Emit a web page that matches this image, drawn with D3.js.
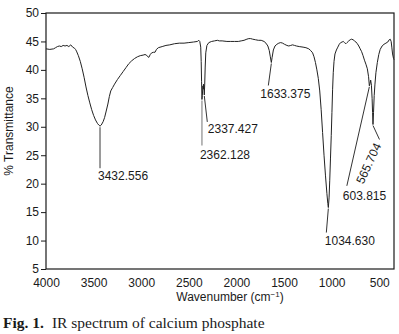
<!DOCTYPE html>
<html>
<head>
<meta charset="utf-8">
<script src="https://cdn.jsdelivr.net/npm/d3@7"></script>
<style>
    body { margin: 0; background: #fff; }
    text { font-family: "Liberation Sans", Arial, sans-serif; fill: #1a1a1a; }
</style>
</head>
<body>
<div id="chart"></div>
<script>
// spectrum (wavenumber in cm-1, % transmittance)
const wavenumber = [
    4000, 3960, 3920, 3900, 3880, 3860, 3840, 3820, 3800, 3780, 3760, 3740, 3720, 3700, 3690, 3680,
    3660, 3640, 3620, 3600, 3580, 3560, 3540, 3520, 3500, 3480, 3460, 3445, 3432.556, 3420, 3400, 3385,
    3370, 3350, 3335, 3320, 3300, 3280, 3250, 3220, 3190, 3160, 3130, 3100, 3070, 3040, 3010, 2980,
    2960, 2945, 2930, 2920, 2905, 2890, 2870, 2855, 2840, 2820, 2780, 2740, 2700, 2650, 2600, 2550,
    2500, 2450, 2410, 2395, 2385, 2375, 2370, 2366, 2362.128, 2358, 2352, 2348, 2344, 2340, 2337.427, 2333,
    2328, 2322, 2310, 2290, 2260, 2230, 2200, 2180, 2150, 2100, 2060, 2020, 1980, 1950, 1920, 1890,
    1870, 1850, 1830, 1800, 1770, 1740, 1710, 1690, 1670, 1655, 1645, 1633.375, 1625, 1612, 1595, 1575,
    1555, 1535, 1515, 1495, 1470, 1450, 1430, 1410, 1390, 1370, 1340, 1300, 1270, 1240, 1220, 1200,
    1185, 1170, 1155, 1140, 1125, 1110, 1095, 1080, 1065, 1050, 1040, 1034.630, 1027, 1020, 1012, 1004,
    997, 990, 983, 975, 965, 950, 935, 920, 905, 890, 878, 865, 850, 838, 820, 805,
    790, 775, 760, 745, 730, 715, 700, 685, 670, 655, 640, 625, 612, 603.815, 597, 590,
    582, 575, 570, 565.704, 560, 553, 545, 535, 520, 505, 490, 470, 450, 430, 410, 395,
    385, 375, 368, 360, 350, 345
];
const transmittance = [
    43.7, 43.6, 43.7, 43.9, 44.1, 44.2, 44.1, 44.3, 44.2, 44.3, 44.1, 44.4, 44.0, 43.8, 43.6, 43.3,
    42.5, 41.5, 40.2, 38.7, 37.0, 35.5, 34.2, 33.0, 32.0, 31.2, 30.6, 30.3, 30.1, 30.3, 30.9, 31.6,
    32.6, 34.0, 35.3, 36.3, 36.9, 37.5, 38.3, 39.0, 39.7, 40.4, 41.1, 41.6, 42.0, 42.3, 42.5, 42.6,
    42.7, 42.6, 42.3, 42.2, 42.7, 43.0, 43.1, 43.1, 43.6, 43.9, 44.1, 44.3, 44.4, 44.6, 44.7, 44.7,
    44.8, 44.9, 45.0, 45.2, 45.0, 44.0, 41.5, 38.0, 34.8, 35.5, 37.2, 36.6, 37.5, 36.5, 35.6, 37.5,
    40.5, 43.0, 44.3, 44.8, 45.0, 45.1, 45.2, 45.1, 45.1, 45.0, 45.0, 45.0, 45.0, 45.1, 45.2, 45.4,
    45.5, 45.5, 45.4, 45.3, 45.2, 45.2, 45.0, 44.7, 44.2, 43.4, 42.4, 41.3, 42.2, 43.5, 44.2, 44.5,
    44.7, 44.8, 44.7, 44.5, 44.3, 44.2, 44.3, 44.4, 44.3, 44.2, 44.1, 44.0, 43.9, 43.7, 43.4, 43.0,
    42.3, 41.3, 40.0, 38.5, 36.3, 33.0, 29.0, 25.0, 21.5, 18.3, 16.5, 15.8, 17.5, 20.5, 24.5, 28.5,
    32.5, 36.5, 39.5, 41.5, 42.8, 43.5, 44.0, 44.5, 44.8, 44.9, 45.0, 44.8, 44.6, 44.8, 45.1, 45.3,
    45.4, 45.3, 45.1, 44.9, 44.6, 44.2, 43.7, 43.2, 42.5, 41.7, 41.0, 40.2, 38.8, 37.2, 37.6, 38.2,
    37.3, 35.0, 32.5, 30.4, 32.5, 35.5, 37.5, 39.5, 41.3, 42.7, 43.6, 44.2, 44.5, 44.7, 44.9, 45.3,
    45.4, 45.0, 44.0, 42.8, 42.0, 41.8
];

// labelled peaks
const peakWavenumber = [3432.556, 2362.128, 2337.427, 1633.375, 1034.630, 603.815, 565.704];
const peakLabels = ["3432.556", "2362.128", "2337.427", "1633.375", "1034.630", "603.815", "565.704"];

const xTicks = [4000, 3500, 3000, 2500, 2000, 1500, 1000, 500];
const yTicks = [5, 10, 15, 20, 25, 30, 35, 40, 45, 50];

const width = 399, height = 334;
const margin = {top: 13, right: 5, bottom: 65, left: 46};

const svg = d3.select("#chart").append("svg")
    .attr("width", width)
    .attr("height", height);

const x = d3.scaleLinear().domain([4000, 345]).range([margin.left, width - margin.right]);
const y = d3.scaleLinear().domain([5, 50]).range([height - margin.bottom, margin.top]);

// axes
svg.append("g")
    .attr("transform", `translate(0,${height - margin.bottom})`)
    .call(d3.axisBottom(x).tickValues(xTicks).tickSize(0).tickPadding(9).tickFormat(d3.format("d")))
    .call(g => g.select(".domain").remove())
    .selectAll("text").style("font-size", "12px").attr("fill", "#1a1a1a");

svg.append("g")
    .attr("transform", `translate(${margin.left},0)`)
    .call(d3.axisLeft(y).tickValues(yTicks).tickSize(5).tickPadding(2))
    .call(g => g.select(".domain").remove())
    .call(g => g.selectAll("line").attr("stroke", "#1a1a1a"))
    .selectAll("text").style("font-size", "12px").attr("fill", "#1a1a1a");

// frame
svg.append("rect")
    .attr("x", x.range()[0])
    .attr("y", y.range()[1])
    .attr("width", x.range()[1] - x.range()[0])
    .attr("height", y.range()[0] - y.range()[1])
    .attr("fill", "none")
    .attr("stroke", "#1a1a1a")
    .attr("stroke-width", 1.2);

// spectrum
const points = wavenumber.map((w, i) => [w, transmittance[i]]);
svg.append("path")
    .datum(points)
    .attr("fill", "none")
    .attr("stroke", "#222")
    .attr("stroke-width", 1)
    .attr("stroke-linejoin", "round")
    .attr("d", d3.line().x(d => x(d[0])).y(d => y(d[1])));

// leader line / label placement, pixel offsets from the peak point
const leaderLayout = [
    {lx: 0, ly: 42, tx: -2, ty: 54, color: "#9a9a9a", w: 2},
    {lx: 0, ly: 46, tx: -2, ty: 60, color: "#8a8a8a", w: 1.2},
    {lx: 3, ly: 27, tx: 3.5, ty: 38, color: "#333", w: 1},
    {lx: -3, ly: 23, tx: -11, ty: 35.5, color: "#333", w: 1},
    {lx: -2, ly: 25, tx: -3.5, ty: 37, color: "#333", w: 1},
    {lx: -22.5, ly: 100, tx: -26.5, ty: 114, color: "#333", w: 1},
    {lx: 6.5, ly: 15, tx: 8.5, ty: 21, color: "#333", w: 1, rot: -65}
];

peakWavenumber.forEach((w, i) => {
    const px = x(w), py = y(transmittance[wavenumber.indexOf(w)]);
    const L = leaderLayout[i];
    svg.append("line")
        .attr("x1", px).attr("y1", py + 1)
        .attr("x2", px + L.lx).attr("y2", py + L.ly)
        .attr("stroke", L.color)
        .attr("stroke-width", L.w);
    const t = svg.append("text")
        .attr("x", px + L.tx)
        .attr("y", py + L.ty)
        .style("font-size", "12px")
        .text(peakLabels[i]);
    if (L.rot) {
        t.attr("text-anchor", "end")
            .attr("transform", `rotate(${L.rot},${px + L.tx},${py + L.ty})`);
    }
});

// axis titles
svg.append("text")
    .attr("transform", `translate(13,${(y.range()[0] + y.range()[1]) / 2 - 10}) rotate(-90)`)
    .attr("text-anchor", "middle")
    .style("font-size", "12px")
    .text("% Transmittance");

const xt = svg.append("text")
    .attr("x", 230)
    .attr("y", 301)
    .attr("text-anchor", "middle")
    .style("font-size", "12px");
xt.append("tspan").text("Wavenumber (cm");
xt.append("tspan").attr("dy", -4).style("font-size", "8px").text("−1");
xt.append("tspan").attr("dy", 4).text(")");

// caption
const cap = svg.append("text")
    .attr("x", 3)
    .attr("y", 328)
    .style("font-family", "'Liberation Serif', 'Times New Roman', serif")
    .style("font-size", "15.5px");
cap.append("tspan").style("font-weight", "bold").text("Fig. 1.");
cap.append("tspan").attr("dx", 8).text("IR spectrum of calcium phosphate");
</script>
</body>
</html>
